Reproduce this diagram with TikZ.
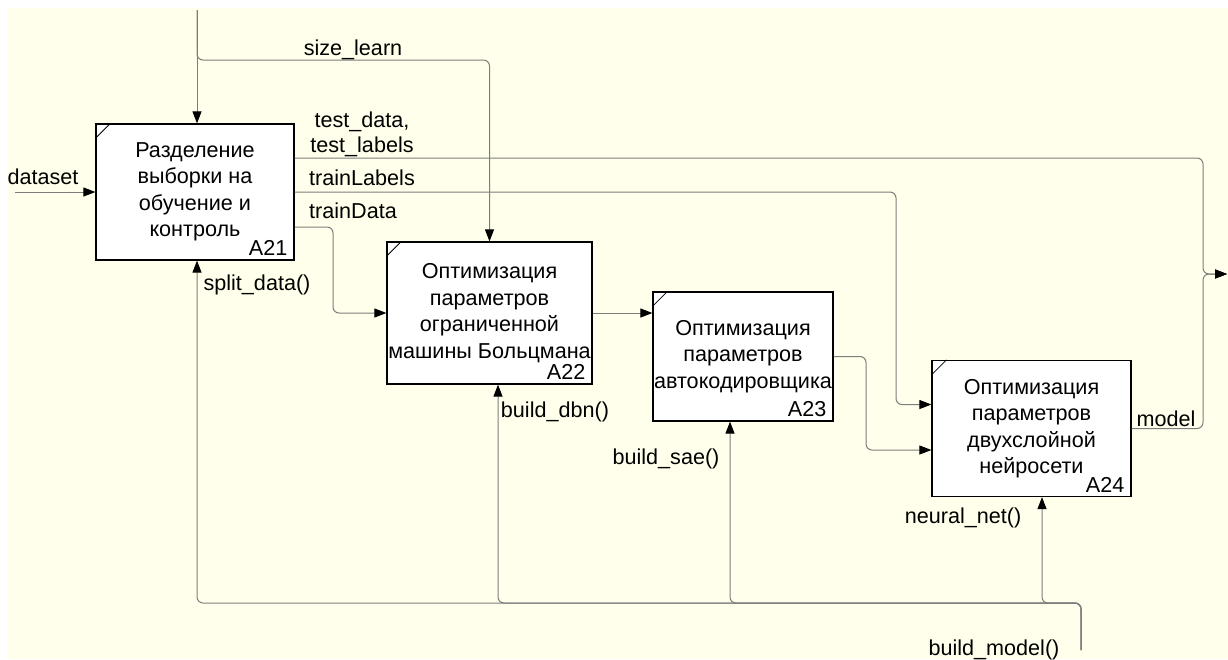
\documentclass[tikz,border=0pt]{standalone}
\usepackage{fontspec}
\setmainfont{Liberation Sans}
\usetikzlibrary{arrows.meta}
\definecolor{cream}{RGB}{255,255,235}
\definecolor{wire}{RGB}{125,125,125}
\tikzset{
  box/.style={draw=black, line width=1.2pt, fill=white, align=center, inner sep=0pt},
  wireline/.style={draw=wire, line width=1pt, rounded corners=6pt},
  conn/.style={wireline, -{Triangle[length=12pt,width=9pt,color=black]}},
  lbl/.style={anchor=base, inner sep=0pt},
  boxno/.style={anchor=base east, inner sep=0pt},
  cornermark/.style={draw=black, line width=0.8pt}
}
\begin{document}
\begin{tikzpicture}[x=1pt, y=-1pt, font=\fontsize{21.6}{26.5}\selectfont]
\useasboundingbox (0,0) rectangle (1228,659);
\fill[white] (0,0) rectangle (1228,659);
\fill[cream] (7,8) rectangle (1228,659);

% boxes
\node[box, minimum width=198pt, minimum height=136pt] (A21) at (195,192)
  {Разделение\\выборки на\\обучение и\\контроль};
\node[box, minimum width=205pt, minimum height=142pt] (A22) at (489.5,313)
  {Оптимизация\\параметров\\ограниченной\\машины Больцмана};
\node[box, minimum width=180pt, minimum height=129pt] (A23) at (743,356.5)
  {Оптимизация\\параметров\\автокодировщика};
\node[box, minimum width=199pt, minimum height=136pt] (A24) at (1031.5,428.5)
  {Оптимизация\\параметров\\двухслойной\\нейросети};

\foreach \b in {A21,A22,A23,A24}{
  \draw[cornermark] ([yshift=-15pt]\b.north west) -- ([xshift=15pt]\b.north west);
  \node[boxno] (\b n) at ([xshift=-7pt,yshift=5pt]\b.south east) {\b};
}

% free ends
\coordinate (src) at (197,10);
\coordinate (dsin) at (15,192);
\coordinate (out) at (1227,274);
\coordinate (bm) at (1081,650);

% top control
\draw[conn] (src) -- (src |- A21.north);
\draw[conn] (src) |- (489.5,60) -- (A22.north);
% input
\draw[conn] (dsin) -- (A21.west);
% outputs of A21
\draw[conn] ([yshift=-35pt]A21.east) -- (333,227) |- (A22.west);
\draw[conn] (A21.east) -- (896,192) |- ([yshift=24pt]A24.west);
\draw[conn] ([yshift=34pt]A21.east) -- (1203,158) |- (out);
% chain
\draw[conn] (A22.east) -- (A22.east -| A23.west);
\draw[conn] (A23.east) -- (866,356.5) |- ([yshift=-21.5pt]A24.west);
\draw[conn] (A24.east) -- (1203,428.5) |- (out);
% mechanisms
\draw[conn] (bm) -- (1081,603) -| ([xshift=2pt]A21.south);
\draw[conn] (bm) -- (1081,603) -| ([xshift=8.5pt]A22.south);
\draw[conn] (bm) -- (1081,603) -| ([xshift=-13pt]A23.south);
\draw[conn] (bm) -- (1081,603) -| ([xshift=10.5pt]A24.south);

% labels
\node[lbl] (Lsize) at (353,55) {size\_learn};
\node[lbl] (Ltest1) at (362,127) {test\_data,};
\node[lbl] (Ltest2) at (362,152) {test\_labels};
\node[lbl] (Ltl) at (362,185) {trainLabels};
\node[lbl] (Ltd) at (353,218) {trainData};
\node[lbl] (Lds) at (43,184) {dataset};
\node[lbl] (Lsplit) at (257,290) {split\_data()};
\node[lbl] (Ldbn) at (555,417) {build\_dbn()};
\node[lbl] (Lsae) at (666,464) {build\_sae()};
\node[lbl] (Lnn) at (963,523) {neural\_net()};
\node[lbl] (Lbm) at (994,655) {build\_model()};
\node[lbl] (Lmodel) at (1166,426) {model};
\end{tikzpicture}
\end{document}
